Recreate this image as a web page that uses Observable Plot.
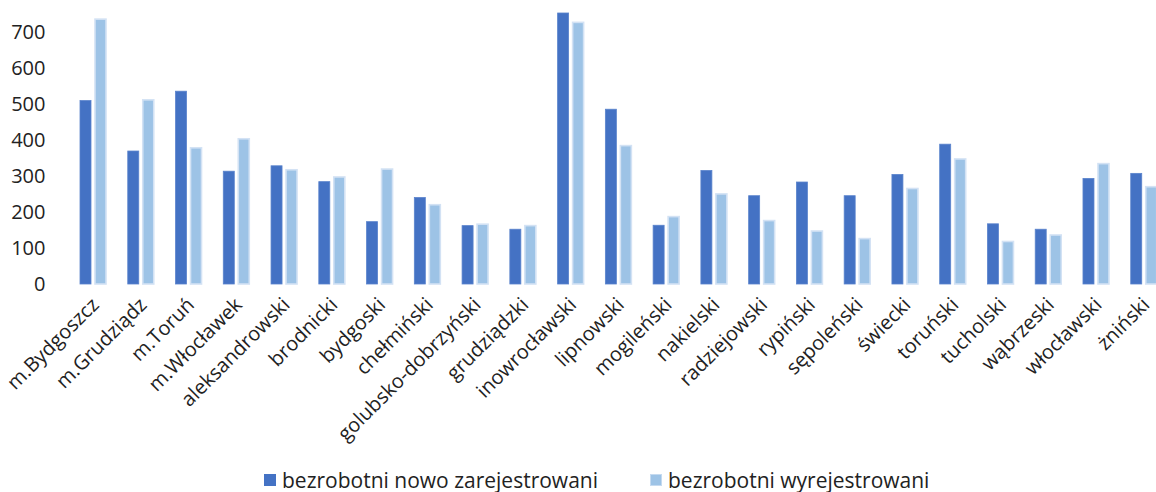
<!DOCTYPE html>
<html>
<head>
<meta charset="utf-8">
<script src="https://cdn.jsdelivr.net/npm/d3@7"></script>
<script src="https://cdn.jsdelivr.net/npm/@observablehq/plot@0.6"></script>
<style>
  html, body { margin: 0; padding: 0; background: #fff; overflow: hidden; }
  body { width: 1156px; height: 492px; font-family: "Open Sans", Lato, sans-serif; position: relative; }
  #chart svg { overflow: hidden; display: block; }
  .legend { font-size: 21px; color: #222; position: absolute; top: 467px; left: 0; width: 1156px; height: 26px; }
  .legend .item { position: absolute; top: 0; display: flex; align-items: center; white-space: nowrap; line-height: 26px; }
  .legend .sw { width: 12px; height: 12px; margin-right: 6px; display: inline-block; }
</style>
</head>
<body>
<div id="chart"></div>
<div class="legend">
  <span class="item" style="left:264px"><span class="sw" style="background:#4472C4"></span><span id="l1"></span></span>
  <span class="item" style="left:650px"><span class="sw" style="background:#9DC3E6;box-shadow:inset 0 0 0 1px #c5daf0"></span><span id="l2"></span></span>
</div>
<script>
const categories = ["m.Bydgoszcz","m.Grudziądz","m.Toruń","m.Włocławek","aleksandrowski","brodnicki","bydgoski","chełmiński","golubsko-dobrzyński","grudziądzki","inowrocławski","lipnowski","mogileński","nakielski","radziejowski","rypiński","sępoleński","świecki","toruński","tucholski","wąbrzeski","włocławski","żniński"];
const seriesNames = ["bezrobotni nowo zarejestrowani", "bezrobotni wyrejestrowani"];
const nowoZarejestrowani = [509, 369, 535, 313, 328, 284, 173, 240, 162, 152, 752, 485, 163, 315, 245, 283, 245, 304, 388, 167, 152, 293, 307];
const wyrejestrowani = [735, 511, 378, 403, 317, 297, 319, 220, 166, 162, 726, 384, 187, 250, 176, 147, 126, 265, 347, 118, 136, 334, 270];
const yTicks = [0, 100, 200, 300, 400, 500, 600, 700];

document.getElementById("l1").textContent = seriesNames[0];
document.getElementById("l2").textContent = seriesNames[1];

const dataA = categories.map((c, i) => ({category: c, value: nowoZarejestrowani[i]}));
const dataB = categories.map((c, i) => ({category: c, value: wyrejestrowani[i]}));

const band = (1167.6 - 69.1) / categories.length;

const chart = Plot.plot({
  width: 1156,
  height: 466,
  marginLeft: 69,
  marginRight: 0,
  marginTop: 0,
  marginBottom: 466 - 284,
  style: {fontFamily: "'Open Sans', Lato, sans-serif", color: "#222", background: "#fff", overflow: "hidden"},
  x: {domain: categories, range: [69.1, 1167.6], padding: 0, round: false, label: null},
  y: {domain: [0, 800], range: [284, -4.3], label: null},
  marks: [
    Plot.ruleY(yTicks, {stroke: "#d9d9d9", strokeWidth: 1.6, x1: 69, x2: 1156}),
    Plot.barY(dataA, {x: "category", y: "value", fill: "#4472C4", stroke: "#5a83cc", strokeWidth: 0.8, insetLeft: 10.9, insetRight: band - 21.9}),
    Plot.barY(dataB, {x: "category", y: "value", fill: "#9DC3E6", stroke: "#d3e2f4", strokeWidth: 1.6, insetLeft: 25.9, insetRight: band - 36.9}),
    Plot.axisY(yTicks, {tickSize: 0, tickPadding: 24, fontSize: 20, label: null}),
    Plot.axisX({tickSize: 0, tickPadding: 17, dx: 2, tickRotate: -45, fontSize: 20, label: null})
  ]
});
document.getElementById("chart").appendChild(chart);
</script>
</body>
</html>
